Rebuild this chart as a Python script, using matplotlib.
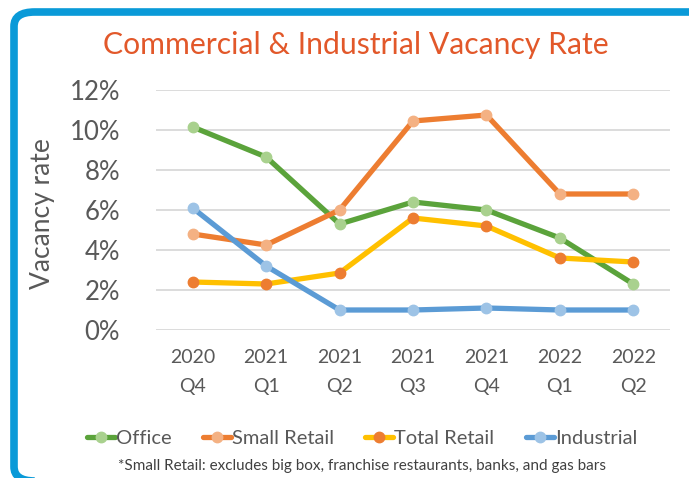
import matplotlib.pyplot as plt
from matplotlib.patches import FancyBboxPatch

#%% data

quarters = ['2020\nQ4', '2021\nQ1', '2021\nQ2', '2021\nQ3', '2021\nQ4', '2022\nQ1', '2022\nQ2']
office = [10.15, 8.65, 5.3, 6.4, 6.0, 4.6, 2.3]
small_retail = [4.8, 4.25, 6.0, 10.45, 10.75, 6.8, 6.8]
total_retail = [2.4, 2.3, 2.85, 5.6, 5.2, 3.6, 3.4]
industrial = [6.1, 3.2, 1.0, 1.0, 1.1, 1.0, 1.0]
yticks = [0, 2, 4, 6, 8, 10, 12]

#%% plot

plt.rcParams['font.family'] = ['Lato', 'DejaVu Sans']

fig = plt.figure(figsize=(6.89, 4.78), dpi=100)

# blue rounded frame, right side runs off the picture
frame = FancyBboxPatch((14 / 689, 1 - 481 / 478), (740 - 14) / 689, (481 - 12) / 478,
                       boxstyle='round,pad=0,rounding_size=0.03',
                       transform=fig.transFigure, facecolor='none',
                       edgecolor='#0A9AD8', linewidth=5.5, zorder=-5)
fig.patches.append(frame)

ax = fig.add_axes([156 / 689, 1 - 330 / 478, (670 - 156) / 689, (330 - 90) / 478])
ax.patch.set_alpha(0)

x = range(len(quarters))
series = [
    ('Office', office, '#5BA33B', '#A9D18E'),
    ('Small Retail', small_retail, '#ED7D31', '#F4B183'),
    ('Total Retail', total_retail, '#FFC000', '#ED7D31'),
    ('Industrial', industrial, '#5B9BD5', '#9DC3E6'),
]
for name, vals, col, mcol in series:
    ax.plot(x, vals, color=col, lw=3.8, marker='o', ms=7.5,
            markerfacecolor=mcol, markeredgecolor=mcol, label=name,
            solid_capstyle='round')

ax.set_xlim(-0.5, len(quarters) - 0.5)
ax.set_ylim(0, 12)
ax.set_yticks(yticks)
ax.set_yticklabels([f'{v}%' for v in yticks])
ax.set_xticks(list(x))
ax.set_xticklabels(quarters, linespacing=1.85)
ax.grid(axis='y', color='#D9D9D9', lw=1.3)
ax.set_axisbelow(True)
for s in ax.spines.values():
    s.set_visible(False)
ax.tick_params(axis='y', length=0, pad=26, labelsize=18.5, labelcolor='#595959')
ax.tick_params(axis='x', length=0, pad=14, labelsize=14, labelcolor='#595959')

fig.text(43 / 689, 1 - 214 / 478, 'Vacancy rate', rotation=90, fontsize=19,
         color='#595959', ha='center', va='center')
fig.text(356 / 689, 1 - 45 / 478, 'Commercial & Industrial Vacancy Rate',
         fontsize=21.7, color='#E2582A', ha='center', va='center')

fig.legend(loc='center', bbox_to_anchor=(362 / 689, 1 - 438 / 478), ncol=4,
           frameon=False, fontsize=14.5, handlelength=1.4, handletextpad=0.05,
           columnspacing=1.55, labelcolor='#595959')

fig.text(362 / 689, 1 - 466 / 478,
         '*Small Retail: excludes big box, franchise restaurants, banks, and gas bars',
         fontsize=11, color='#404040', ha='center', va='center')

plt.savefig('out.png', dpi=100)
